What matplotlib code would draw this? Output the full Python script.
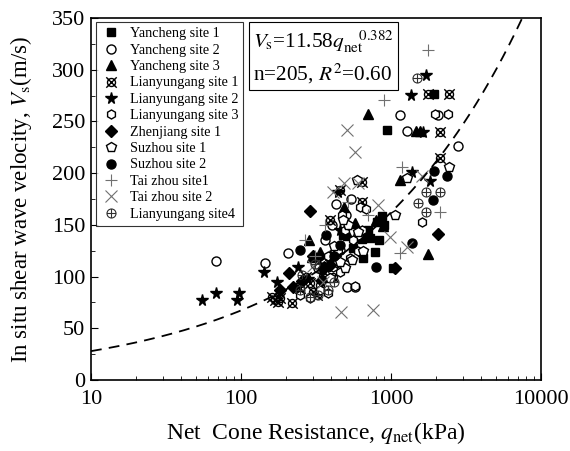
import numpy as np
import matplotlib
matplotlib.use("Agg")
import matplotlib.pyplot as plt
from matplotlib.path import Path

plt.rcParams['font.family'] = ['Liberation Serif', 'DejaVu Serif']
plt.rcParams['mathtext.fontset'] = 'stix'

# ---------------- data ----------------
yc1_q = [1936, 940, 871, 807, 641, 724, 832, 782, 641, 651, 1031, 900, 700, 560, 480]
yc1_v = [277, 242, 159, 153, 136, 137, 135, 124, 124, 118, 108, 150, 145, 128, 140]

yc2_q = [68, 145, 206, 404, 501, 1148, 1279, 2057, 2797, 509, 575, 457, 363, 327, 430, 600, 540, 395]
yc2_v = [115, 113, 123, 150, 160, 256, 241, 256, 226, 90, 90, 126, 135, 108, 170, 140, 175, 118]

yc3_q = [703, 1468, 1560, 1148, 1765, 486, 284, 297, 575, 885, 336, 392, 520, 800, 430, 360]
yc3_v = [257, 241, 241, 193, 122, 167, 135, 119, 152, 149, 124, 121, 140, 155, 125, 110]

ly1_q = [169, 160, 176, 219, 247, 288, 321, 336, 457, 641, 641, 1765, 2436, 2122, 2122, 392, 270, 360,
         183, 300, 410]
ly1_v = [77, 80, 75, 74, 89, 94, 82, 92, 184, 191, 172, 277, 277, 240, 215, 155, 100, 110,
         79, 85, 100]

ly2_q = [55, 68, 97, 94, 142, 174, 240, 443, 1711, 1360, 1634, 1820, 1380, 457, 327, 280]
ly2_v = [77, 84, 84, 77, 104, 95, 109, 182, 295, 276, 240, 192, 201, 145, 116, 98]

ly3_q = [1964, 2399, 1610, 575, 621, 641, 558, 533, 457, 410, 380, 336, 494, 443, 247, 288, 470, 600, 380,
         520, 680, 350, 440]
ly3_v = [257, 257, 153, 91, 167, 145, 135, 118, 104, 109, 84, 87, 145, 126, 82, 79, 160, 125, 120,
         150, 165, 100, 113]

zj1_q = [288, 209, 222, 347, 2057, 1063, 182, 392, 300, 255]
zj1_v = [163, 103, 90, 97, 141, 108, 87, 111, 120, 96]

sz1_q = [2436, 1279, 593, 550, 494, 457, 600, 420, 392, 1063, 520, 650, 480]
sz1_v = [206, 195, 193, 116, 108, 114, 143, 130, 99, 160, 150, 125, 155]

sz2_q = [1936, 2362, 794, 1380, 1905, 347, 457, 247, 420, 370]
sz2_v = [202, 197, 109, 132, 174, 106, 131, 126, 120, 140]

tz1_q = [1765, 898, 1184, 1148, 2122, 516, 268, 363, 700, 310]
tz1_v = [319, 271, 206, 123, 162, 172, 135, 150, 160, 120]

tz2_q = [509, 575, 486, 410, 603, 819, 985, 464, 759, 1279, 1610, 300, 350]
tz2_v = [242, 220, 190, 182, 190, 169, 138, 66, 68, 129, 197, 110, 95]

ly4_q = [1491, 1711, 2122, 1514, 1711, 255, 247, 288, 327, 380, 420, 310]
ly4_v = [292, 182, 182, 171, 162, 102, 87, 80, 82, 87, 95, 112]

fit_a, fit_b = 11.58, 0.382

# ---------------- markers ----------------
circ = Path.unit_circle()
xpath = Path.make_compound_path(circ,
                                Path([[-1.3, -1.3], [1.3, 1.3]]),
                                Path([[-1.3, 1.3], [1.3, -1.3]]))
ppath = Path.make_compound_path(circ,
                                Path([[-1, 0], [1, 0]]),
                                Path([[0, -1], [0, 1]]))

fig = plt.figure(figsize=(5.70, 4.51), dpi=100)
ax = fig.add_axes([0.1596, 0.1574, 0.7895, 0.8027])

ms = 6.5
kw_open = dict(mfc='white', mec='black', mew=1.0, ls='none')
kw_fill = dict(color='black', ls='none')

ax.plot(yc1_q, yc1_v, 's', ms=ms - 0.5, label='Yancheng site 1', **kw_fill)
ax.plot(yc2_q, yc2_v, 'o', ms=ms, label='Yancheng site 2', **kw_open)
ax.plot(yc3_q, yc3_v, '^', ms=ms + 0.5, label='Yancheng site 3', **kw_fill)
ax.plot(ly1_q, ly1_v, marker=xpath, ms=ms + 1, mfc='none', mec='black', mew=1.0, ls='none',
        label='Lianyungang site 1')
ax.plot(ly2_q, ly2_v, '*', ms=ms + 2, label='Lianyungang site 2', **kw_fill)
ax.plot(ly3_q, ly3_v, 'h', ms=ms, label='Lianyungang site 3', **kw_open)
ax.plot(zj1_q, zj1_v, 'D', ms=ms - 0.5, label='Zhenjiang site 1', **kw_fill)
ax.plot(sz1_q, sz1_v, 'p', ms=ms + 0.5, label='Suzhou site 1', **kw_open)
ax.plot(sz2_q, sz2_v, 'o', ms=ms, label='Suzhou site 2', **kw_fill)
ax.plot(tz1_q, tz1_v, '+', ms=ms + 2, color='#707070', mew=0.8, ls='none', label='Tai zhou site1')
ax.plot(tz2_q, tz2_v, 'x', ms=ms + 2, color='#707070', mew=0.8, ls='none', label='Tai zhou site 2')
ax.plot(ly4_q, ly4_v, marker=ppath, ms=ms, mfc='none', mec='#303030', mew=0.8, ls='none',
        label='Lianyungang site4')

qf = np.logspace(1, np.log10((350 / fit_a) ** (1 / fit_b)), 200)
ax.plot(qf, fit_a * qf ** fit_b, ls=(0, (6, 4)), color='black', lw=1.3)

ax.set_xscale('log')
ax.set_xlim(10, 10000)
ax.set_ylim(0, 350)
ax.set_yticks(np.arange(0, 351, 50))
ax.yaxis.set_minor_locator(matplotlib.ticker.MultipleLocator(25))
ax.xaxis.set_major_formatter(matplotlib.ticker.FuncFormatter(lambda v, p: f'{v:.0f}'))
ax.tick_params(which='both', direction='in', top=False, right=False, labelsize=16)
ax.tick_params(axis='x', which='both', pad=7)
ax.tick_params(axis='y', which='both', pad=4)
ax.tick_params(which='major', length=5)
ax.tick_params(which='minor', length=3)
for s in ax.spines.values():
    s.set_linewidth(1.2)

ax.set_xlabel(r'Net  Cone Resistance, $q_{\rm net}$(kPa)', fontsize=17, labelpad=8)
ax.set_ylabel(r'In situ shear wave velocity, $V_{\rm s}$(m/s)', fontsize=16.5, labelpad=13)

leg = ax.legend(loc='upper left', bbox_to_anchor=(0.012, 0.988), fontsize=10.2, frameon=True,
                fancybox=False, edgecolor='black', handlelength=1.4, handletextpad=0.6,
                borderpad=0.35, labelspacing=0.24, borderaxespad=0.0, numpoints=1)
leg.get_frame().set_linewidth(0.8)

ax.text(0.36, 0.972, r'$V_{\rm s}$=11.58$q_{\rm net}^{\ \ \ \ 0.382}$' + '\n' + r'n=205, $R^2$=0.60',
        transform=ax.transAxes, fontsize=15.3, va='top', ha='left', linespacing=1.35,
        bbox=dict(boxstyle='square,pad=0.2', fc='white', ec='black', lw=0.8))

fig.savefig('out.png', dpi=100)
